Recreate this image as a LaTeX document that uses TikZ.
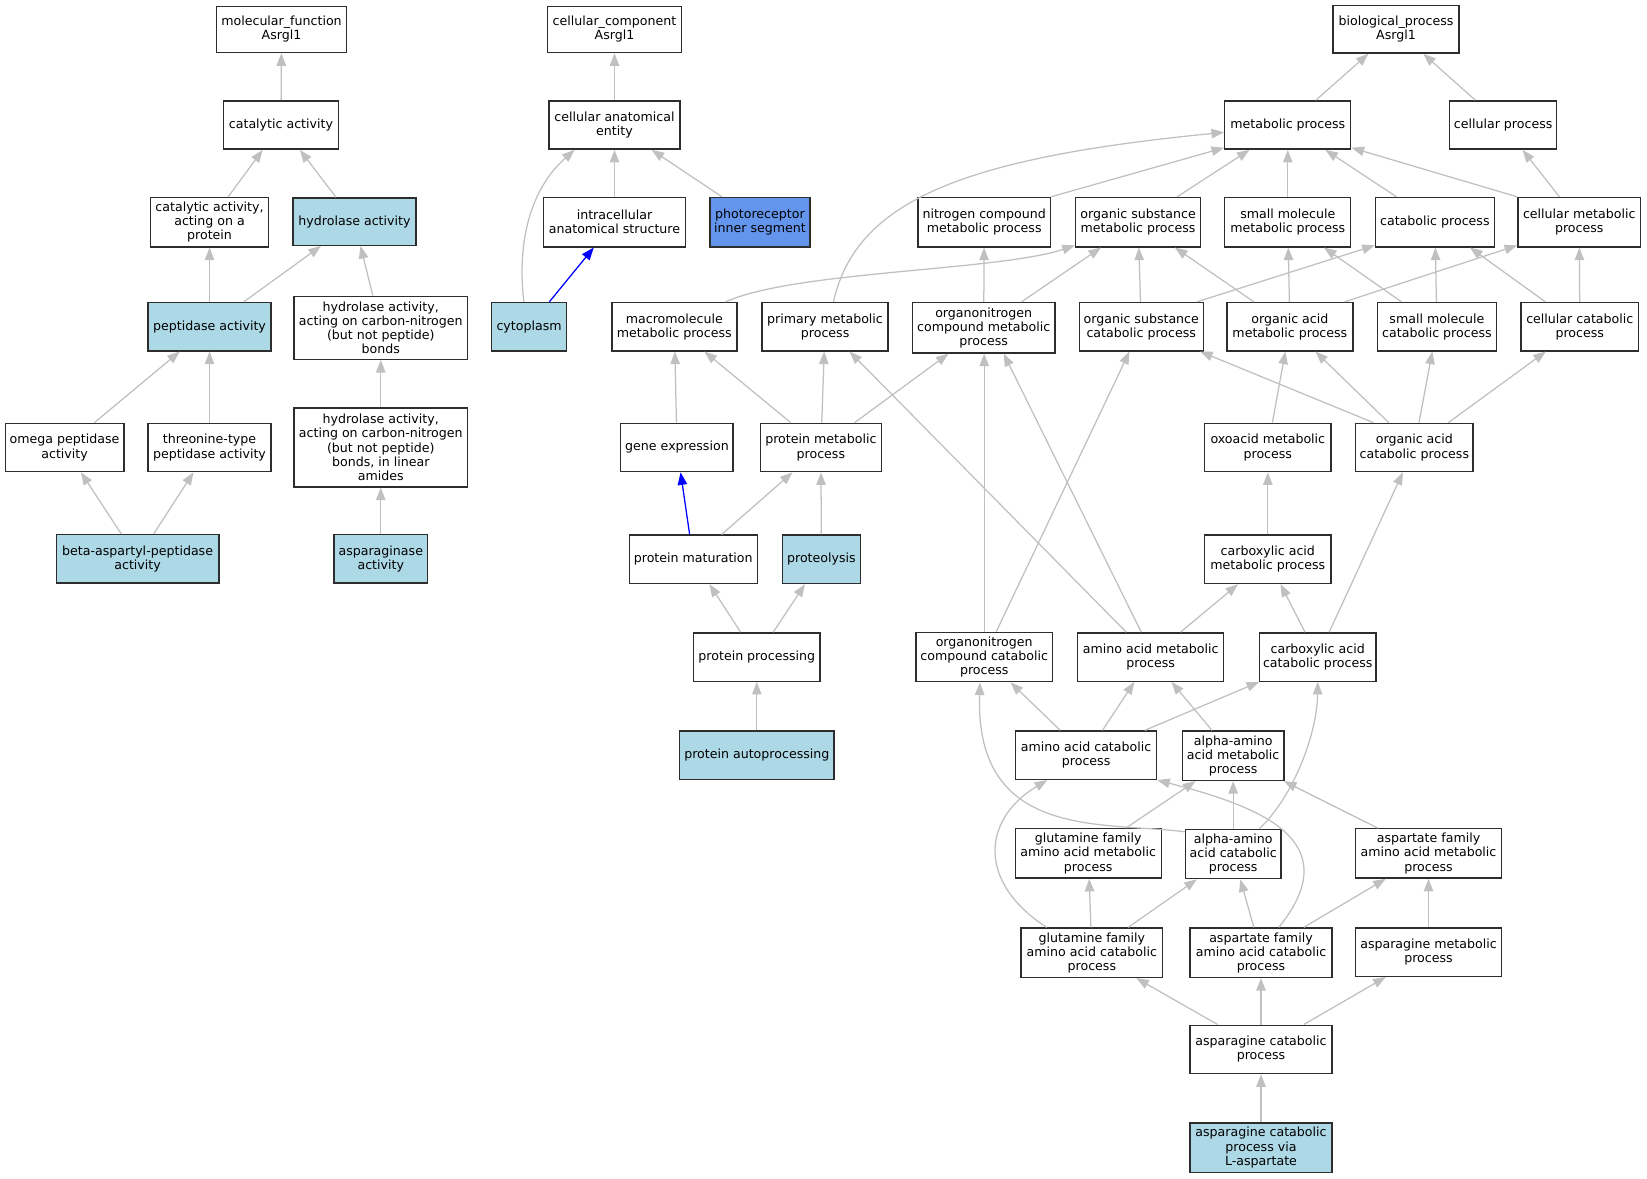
\documentclass[tikz,border=0pt]{standalone}
\usepackage{fontspec}
\setmainfont{DejaVu Sans}
\usetikzlibrary{arrows.meta}
\definecolor{edgegray}{RGB}{192,192,192}
\definecolor{boxline}{RGB}{45,45,45}
\definecolor{lblue}{RGB}{173,216,230}
\definecolor{cblue}{RGB}{100,149,237}
\newcommand{\gonode}[7][]{\node[gobox,#1,minimum width=#5pt,minimum height=#6pt] (#2) at (#3,#4) {#7};}
\begin{document}
\begin{tikzpicture}[x=1pt,y=-1pt,
  gobox/.style={draw=boxline, line width=1.3pt, fill=white, inner sep=0pt, align=center, font=\fontsize{12}{13.5}\selectfont},
  hit/.style={fill=lblue},
  goedge/.style={draw=edgegray, line width=1.2pt, -{Triangle[length=12pt,width=9pt]}},
  blueedge/.style={draw=blue, line width=1.2pt, -{Triangle[length=12pt,width=9pt]}}]
\useasboundingbox (0,0) rectangle (1568,1122);

% ---------- molecular function ----------
\gonode{mf}{268}{28}{124}{44}{molecular\_function\\Asrgl1}
\gonode{cat}{267.5}{119}{109}{46}{catalytic activity}
\gonode{catprot}{199.5}{211.5}{112}{47}{catalytic activity,\\acting on a\\protein}
\gonode[hit]{hyd}{337.5}{211}{117}{45}{hydrolase activity}
\gonode[hit]{pep}{199.5}{311}{117}{46}{peptidase activity}
\gonode{hydcn}{362.5}{312}{165}{60}{hydrolase activity,\\acting on carbon-nitrogen\\(but not peptide)\\bonds}
\gonode{omega}{61.5}{426}{113}{46}{omega peptidase\\activity}
\gonode{thr}{199.5}{426}{117}{46}{threonine-type\\peptidase activity}
\gonode{hydlin}{362.5}{426}{165}{75}{hydrolase activity,\\acting on carbon-nitrogen\\(but not peptide)\\bonds, in linear\\amides}
\gonode[hit]{beta}{131}{532}{155}{46}{beta-aspartyl-peptidase\\activity}
\gonode[hit]{asp}{362.5}{532}{89}{46}{asparaginase\\activity}

% ---------- cellular component ----------
\gonode{cc}{585}{28}{127}{44}{cellular\_component\\Asrgl1}
\gonode{cae}{585}{119}{125}{46}{cellular anatomical\\entity}
\gonode{ias}{585}{211.5}{135}{47}{intracellular\\anatomical structure}
\gonode[fill=cblue]{pis}{723.5}{211.5}{95}{47}{photoreceptor\\inner segment}
\gonode[hit]{cyto}{503.7}{311}{71}{46}{cytoplasm}

% ---------- biological process ----------
\gonode{bp}{1329}{28}{120}{45}{biological\_process\\Asrgl1}
\gonode{mp}{1226}{119}{120}{46}{metabolic process}
\gonode{cp}{1431}{119}{102}{46}{cellular process}
\gonode{ncmp}{937}{211.5}{126}{47}{nitrogen compound\\metabolic process}
\gonode{osmp}{1083.5}{211.5}{119}{47}{organic substance\\metabolic process}
\gonode{smmp}{1226}{211.5}{120}{47}{small molecule\\metabolic process}
\gonode{catp}{1366}{211.5}{113}{47}{catabolic process}
\gonode{cmp}{1503.5}{211.5}{117}{47}{cellular metabolic\\process}
\gonode{mmp}{642}{311}{119}{46}{macromolecule\\metabolic process}
\gonode{pmp}{785.5}{311}{120}{46}{primary metabolic\\process}
\gonode{onmp}{936.5}{312}{136}{48}{organonitrogen\\compound metabolic\\process}
\gonode{oscp}{1086.5}{311}{118}{46}{organic substance\\catabolic process}
\gonode{oamp}{1228}{311}{120}{46}{organic acid\\metabolic process}
\gonode{smcp}{1368}{311}{113}{46}{small molecule\\catabolic process}
\gonode{ccp}{1504}{311}{112}{46}{cellular catabolic\\process}
\gonode{ge}{644.5}{426}{107}{46}{gene expression}
\gonode{prmp}{781.5}{426}{115}{46}{protein metabolic\\process}
\gonode{oxmp}{1207}{426}{120}{46}{oxoacid metabolic\\process}
\gonode{oacp}{1346.5}{426}{112}{46}{organic acid\\catabolic process}
\gonode{pmat}{660}{532.5}{122}{46}{protein maturation}
\gonode[hit]{prot}{782}{532.5}{74}{46}{proteolysis}
\gonode{cxmp}{1207}{532.5}{120}{46}{carboxylic acid\\metabolic process}
\gonode{pproc}{720.5}{625.5}{120}{46}{protein processing}
\gonode{oncp}{937}{625.5}{130}{47}{organonitrogen\\compound catabolic\\process}
\gonode{aamp}{1095.5}{625.5}{139}{46}{amino acid metabolic\\process}
\gonode{cxcp}{1254.5}{625.5}{111}{46}{carboxylic acid\\catabolic process}
\gonode[hit]{pap}{720.5}{719}{147}{46}{protein autoprocessing}
\gonode{aacp}{1034}{719}{134}{46}{amino acid catabolic\\process}
\gonode{alphm}{1174}{719.5}{97}{47}{alpha-amino\\acid metabolic\\process}
\gonode{gfmp}{1036}{812.5}{139}{47}{glutamine family\\amino acid metabolic\\process}
\gonode{alphc}{1174}{813}{91}{47}{alpha-amino\\acid catabolic\\process}
\gonode{afmp}{1360}{812.5}{139}{47}{aspartate family\\amino acid metabolic\\process}
\gonode{gfcp}{1039.5}{907}{135}{47}{glutamine family\\amino acid catabolic\\process}
\gonode{afcp}{1200.5}{907}{135}{47}{aspartate family\\amino acid catabolic\\process}
\gonode{asnmp}{1360}{906.5}{139}{46}{asparagine metabolic\\process}
\gonode{asncp}{1200.5}{999}{135}{46}{asparagine catabolic\\process}
\gonode[hit]{asnl}{1200.5}{1092.5}{135}{47}{asparagine catabolic\\process via\\L-aspartate}

% ---------- edges: molecular function ----------
\draw[goedge] (cat) -- (mf);
\draw[goedge] (catprot) -- (cat);
\draw[goedge] (hyd) -- (cat);
\draw[goedge] (pep) -- (catprot);
\draw[goedge] (pep) -- (hyd);
\draw[goedge] (hydcn) -- (hyd);
\draw[goedge] (omega) -- (pep);
\draw[goedge] (thr) -- (pep);
\draw[goedge] (hydlin) -- (hydcn);
\draw[goedge] (beta) -- (omega);
\draw[goedge] (beta) -- (thr);
\draw[goedge] (asp) -- (hydlin);

% ---------- edges: cellular component ----------
\draw[goedge] (cae) -- (cc);
\draw[goedge] (ias) -- (cae);
\draw[goedge] (pis) -- (cae);
\draw[goedge] ([xshift=-5pt]cyto.north) .. controls (492,230) and (505,180) .. ([xshift=-38pt]cae.south);
\draw[blueedge] (cyto) -- (ias);

% ---------- edges: biological process ----------
\draw[goedge] (mp) -- (bp);
\draw[goedge] (cp) -- (bp);
\draw[goedge] ([xshift=8pt]pmp.north) .. controls (815,190) and (920,150) .. ([yshift=-7pt]mp.west);
\draw[goedge] (ncmp.north east) -- ([yshift=2pt]mp.south west);
\draw[goedge] (osmp) -- (mp);
\draw[goedge] (smmp) -- (mp);
\draw[goedge] (catp) -- (mp);
\draw[goedge] (cmp.north west) -- ([yshift=2pt]mp.south east);
\draw[goedge] (cmp) -- (cp);
\draw[goedge] ([xshift=49pt]mmp.north) .. controls (755,258) and (950,258) .. ([yshift=2pt]osmp.south west);
\draw[goedge] (onmp) -- (ncmp);
\draw[goedge] (onmp) -- (osmp);
\draw[goedge] (oscp) -- (osmp);
\draw[goedge] ([xshift=53pt]oscp.north) -- ([yshift=2pt]catp.south west);
\draw[goedge] (oamp) -- (osmp);
\draw[goedge] (oamp) -- (smmp);
\draw[goedge] ([xshift=52pt]oamp.north) -- ([yshift=2pt]cmp.south west);
\draw[goedge] (smcp) -- (smmp);
\draw[goedge] (smcp) -- (catp);
\draw[goedge] (ccp) -- (catp);
\draw[goedge] (ccp) -- (cmp);
\draw[goedge] (ge) -- (mmp);
\draw[goedge] (prmp) -- (mmp);
\draw[goedge] (prmp) -- (pmp);
\draw[goedge] (prmp) -- (onmp);
\draw[goedge] (oxmp) -- (oamp);
\draw[goedge] ([xshift=-39pt]oacp.north) -- ([xshift=56pt]oscp.south);
\draw[goedge] (oacp) -- (oamp);
\draw[goedge] (oacp) -- (smcp);
\draw[goedge] (oacp) -- (ccp);
\draw[blueedge] (pmat) -- (ge);
\draw[goedge] (pmat) -- (prmp);
\draw[goedge] (prot) -- (prmp);
\draw[goedge] (cxmp) -- (oxmp);
\draw[goedge] (pproc) -- (pmat);
\draw[goedge] (pproc) -- (prot);
\draw[goedge] (oncp.north) -- (oncp.north |- onmp.south);
\draw[goedge] (oncp) -- (oscp);
\draw[goedge] (aamp) -- (pmp);
\draw[goedge] ([xshift=-9pt]aamp.north) -- ([xshift=19pt]onmp.south);
\draw[goedge] (aamp) -- (cxmp);
\draw[goedge] (cxcp) -- (cxmp);
\draw[goedge] (cxcp) -- (oacp);
\draw[goedge] (pap) -- (pproc);
\draw[goedge] (aacp) -- (oncp);
\draw[goedge] (aacp) -- (aamp);
\draw[goedge] (aacp) -- (cxcp);
\draw[goedge] (alphm) -- (aamp);
\draw[goedge] (gfmp) -- (alphm);
\draw[goedge] (alphc) -- (alphm);
\draw[goedge] ([xshift=25pt]alphc.north) .. controls (1230,760) and (1254,700) .. (cxcp.south);
\draw[goedge] ([yshift=-3pt]alphc.north west) .. controls (1050,782) and (928,800) .. ([xshift=-4pt]oncp.south);
\draw[goedge] (afmp) -- (alphm);
\draw[goedge] ([xshift=17pt]afcp.north) .. controls (1284,800) and (1200,768) .. (aacp.south east);
\draw[goedge] (afcp) -- (alphc);
\draw[goedge] (afcp) -- (afmp);
\draw[goedge] (gfcp) -- (gfmp);
\draw[goedge] (gfcp) -- (alphc);
\draw[goedge] ([xshift=-43pt]gfcp.north) .. controls (930,840) and (935,780) .. ([xshift=-37pt]aacp.south);
\draw[goedge] (asnmp) -- (afmp);
\draw[goedge] (asncp) -- (gfcp);
\draw[goedge] (asncp) -- (afcp);
\draw[goedge] (asncp) -- (asnmp);
\draw[goedge] (asnl) -- (asncp);
\end{tikzpicture}
\end{document}
